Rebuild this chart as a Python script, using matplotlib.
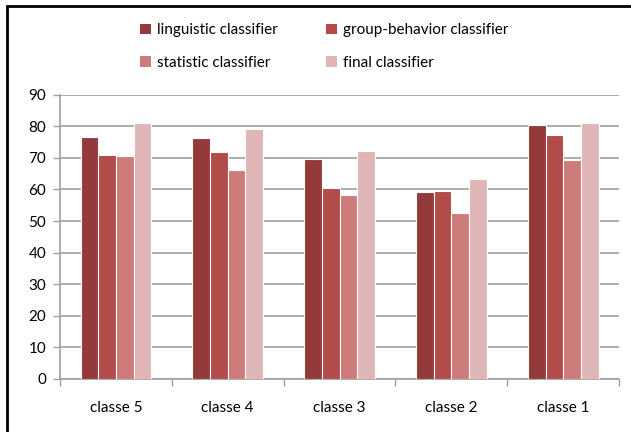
import numpy as np
import matplotlib
matplotlib.use('Agg')
import matplotlib.pyplot as plt
from matplotlib.patches import Rectangle

plt.rcParams['font.family'] = ['Lato', 'DejaVu Sans']

categories = ['classe 5', 'classe 4', 'classe 3', 'classe 2', 'classe 1']
series_names = ['linguistic classifier', 'group-behavior classifier',
                'statistic classifier', 'final classifier']
linguistic = [76.7, 76.3, 69.8, 59.2, 80.4]
group_behavior = [71.0, 71.8, 60.4, 59.6, 77.2]
statistic = [70.7, 66.1, 58.4, 52.6, 69.4]
final = [81.2, 79.2, 72.2, 63.3, 81.2]
colours = ['#953a3a', '#b34b49', '#cb7c7b', '#e0b5b5']
yticks = [0, 10, 20, 30, 40, 50, 60, 70, 80, 90]

fig = plt.figure(figsize=(6.31, 4.32), dpi=100)
ax = fig.add_axes([0.0951, 0.1227, 0.886, 0.658])

x = np.arange(len(categories))
w = 0.158
values = [linguistic, group_behavior, statistic, final]
bars = []
for i, (vals, c, lab) in enumerate(zip(values, colours, series_names)):
    b = ax.bar(x + (i - 1.5) * w, vals, width=w, color=c, edgecolor='white',
               linewidth=0.8, label=lab, zorder=3)
    bars.append(b)

ax.set_xlim(-0.5, len(categories) - 0.5)
ax.set_ylim(0, 90)
ax.set_yticks(yticks)
ax.yaxis.grid(True, color='#a0a0a0', linewidth=1.2, zorder=0)
ax.set_xticks(x)
ax.set_xticklabels(categories, fontsize=11)
ax.set_xticks(np.arange(len(categories) + 1) - 0.5, minor=True)
ax.tick_params(axis='x', which='major', length=0, pad=16)
ax.tick_params(axis='x', which='minor', length=5, color='#a0a0a0', width=1)
ax.tick_params(axis='y', length=5, color='#a0a0a0', width=1, labelsize=11, pad=5)
for s in ['top', 'right']:
    ax.spines[s].set_visible(False)
for s in ['left', 'bottom']:
    ax.spines[s].set_color('#a0a0a0')
    ax.spines[s].set_linewidth(1.2)

# row-major order like the reference: ling, group / stat, final
order = [0, 2, 1, 3]
leg = fig.legend([bars[i] for i in order], [series_names[i] for i in order],
                 loc='upper left', bbox_to_anchor=(0.2, 0.978), ncol=2,
                 frameon=False, fontsize=11, handlelength=0.7, handleheight=0.7,
                 handletextpad=0.4, columnspacing=3.2, labelspacing=1.2)
for h in leg.legend_handles:
    h.set_linewidth(0)

# outer frame (only left and top visible in the reference)
fig.patches.append(Rectangle((0.0118, -0.1), 1.2, 1.087, transform=fig.transFigure,
                             fill=False, edgecolor='black', linewidth=2))

plt.savefig('out.png')
plt.close(fig)
